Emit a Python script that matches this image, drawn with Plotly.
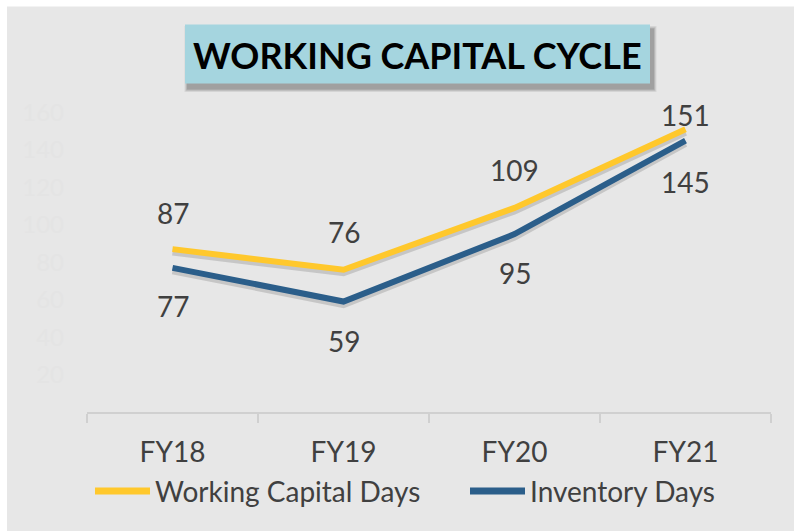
import plotly.graph_objects as go

# datos del grafico
years = ["FY18", "FY19", "FY20", "FY21"]
working_capital_days = [87, 76, 109, 151]
inventory_days = [77, 59, 95, 145]
y_ticks = [20, 40, 60, 80, 100, 120, 140, 160]
series_names = ["Working Capital Days", "Inventory Days"]

W, H = 794, 531
L, R, T, B = 87, 23, 74.5, 119
pw, ph = W - L - R, H - T - B


def px_x(x):
    # pixel -> coordenada paper
    return (x - L) / pw


def px_y(y):
    return (H - B - y) / ph


YELLOW = "#FFC82C"
BLUE = "#2B5E8A"
TXT = "#404040"
FONT = "Lato"

fig = go.Figure()

# sombras suaves de las lineas
for vals in (working_capital_days, inventory_days):
    fig.add_trace(go.Scatter(
        x=years, y=[v - 1.6 for v in vals], mode="lines",
        line=dict(color="rgba(0,0,0,0.14)", width=7),
        showlegend=False, hoverinfo="skip",
    ))

fig.add_trace(go.Scatter(
    x=years, y=working_capital_days, mode="lines", name=series_names[0],
    line=dict(color=YELLOW, width=6), showlegend=False,
))
fig.add_trace(go.Scatter(
    x=years, y=inventory_days, mode="lines", name=series_names[1],
    line=dict(color=BLUE, width=6), showlegend=False,
))

# etiquetas de datos
shift_wc = [36, 38, 38, 14]
shift_inv = [-38, -39, -39, -41]
for i, yr in enumerate(years):
    fig.add_annotation(x=yr, y=working_capital_days[i], text=str(working_capital_days[i]),
                       showarrow=False, yshift=shift_wc[i],
                       font=dict(family=FONT, size=28, color=TXT))
    fig.add_annotation(x=yr, y=inventory_days[i], text=str(inventory_days[i]),
                       showarrow=False, yshift=shift_inv[i],
                       font=dict(family=FONT, size=28, color=TXT))

# fondo gris con borde blanco
fig.add_shape(type="rect", xref="paper", yref="paper", layer="below",
              x0=px_x(7), x1=px_x(W + 5), y0=px_y(H + 5), y1=px_y(6),
              fillcolor="#E7E7E7", line_width=0)

# caja del titulo con sombra
bx0, bx1, by0, by1 = 185, 650, 24, 83
for k, op in enumerate([0.08, 0.10, 0.13, 0.18]):
    d = 3.5 - k * 0.8
    fig.add_shape(type="rect", xref="paper", yref="paper",
                  x0=px_x(bx0 + 3 - d), x1=px_x(bx1 + 3 + d),
                  y0=px_y(by1 + 5 + d), y1=px_y(by0 + 5 - d),
                  fillcolor=f"rgba(60,60,60,{op})", line_width=0)
fig.add_shape(type="rect", xref="paper", yref="paper",
              x0=px_x(bx0), x1=px_x(bx1), y0=px_y(by1), y1=px_y(by0),
              fillcolor="#A5D5DF", line_width=0)
fig.add_annotation(xref="paper", yref="paper", x=px_x((bx0 + bx1) / 2), y=px_y((by0 + by1) / 2 + 1),
                   text="<b>WORKING CAPITAL CYCLE</b>", showarrow=False,
                   xanchor="center", yanchor="middle",
                   font=dict(family=FONT, size=36, color="#000000"))

# leyenda dibujada a mano (lineas largas como en Excel)
leg_y = 491
for (lx0, lx1), color, name in zip([(95, 150), (470, 525)], [YELLOW, BLUE], series_names):
    fig.add_shape(type="line", xref="paper", yref="paper",
                  x0=px_x(lx0), x1=px_x(lx1), y0=px_y(leg_y), y1=px_y(leg_y),
                  line=dict(color=color, width=7))
    fig.add_annotation(xref="paper", yref="paper", x=px_x(lx1 + 3), y=px_y(leg_y),
                       text=name, showarrow=False, xanchor="left", yanchor="middle",
                       font=dict(family=FONT, size=28, color=TXT))

fig.update_layout(
    width=W, height=H,
    margin=dict(l=L, r=R, t=T, b=B),
    paper_bgcolor="white",
    plot_bgcolor="rgba(0,0,0,0)",
    showlegend=False,
    xaxis=dict(
        type="category", range=[-0.5, 3.5],
        showline=True, linecolor="#D0D0D0", linewidth=2,
        ticks="outside", tickson="boundaries", ticklen=9, tickcolor="#D0D0D0", tickwidth=2,
        showgrid=False, zeroline=False,
        tickfont=dict(family=FONT, size=28, color=TXT),
        ticklabelstandoff=14,
    ),
    yaxis=dict(
        range=[0, 180], tickvals=y_ticks,
        showgrid=False, zeroline=False, showline=False,
        tickfont=dict(family=FONT, size=24, color="#E4E4E4"),
        ticklabelstandoff=22,
    ),
)

fig.write_html("out.html", config={"displayModeBar": False},
               post_script="document.body.style.margin='0';")
